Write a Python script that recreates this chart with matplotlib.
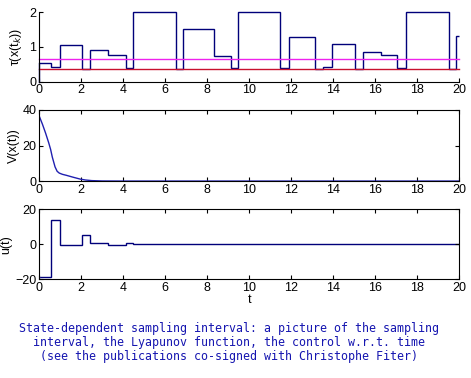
import matplotlib
matplotlib.use("Agg")
import matplotlib.pyplot as plt
import numpy as np

# Sampling instants t_k and sampling intervals tau_k (held until next instant)
t_samp = [0.0, 0.54, 0.98, 2.05, 2.41, 3.29, 4.11, 4.48, 6.49, 6.86, 8.33,
          9.11, 9.44, 11.46, 11.88, 13.14, 13.5, 13.93, 15.05, 15.41, 16.29,
          17.04, 17.45, 19.49, 19.84, 20.0]
tau_vals = [0.53, 0.43, 1.04, 0.37, 0.90, 0.76, 0.40, 2.0, 0.37, 1.51, 0.75,
            0.40, 2.0, 0.40, 1.28, 0.37, 0.42, 1.09, 0.37, 0.86, 0.76,
            0.40, 2.0, 0.37, 1.32]
tau_min = 0.37
tau_bound = 0.65

# Lyapunov function samples
v_t = [0.0, 0.0, 0.15, 0.3, 0.45, 0.54, 0.62, 0.75, 0.85, 0.95, 1.1, 1.3,
       1.6, 1.95, 2.2, 2.5, 3.0, 4.0, 20.0]
v_vals = [0.0, 36.5, 32.0, 27.0, 21.5, 17.8, 13.5, 8.0, 5.5, 4.5, 3.8, 3.2,
          2.2, 1.1, 0.6, 0.25, 0.05, 0.0, 0.0]

# Control values held over each sampling interval
u_vals = [-18.7, 13.5, -0.7, 5.0, 0.5, -0.2, 0.5, 0.0, 0.0, 0.0, 0.0,
          0.0, 0.0, 0.0, 0.0, 0.0, 0.0, 0.0, 0.0, 0.0, 0.0,
          0.0, 0.0, 0.0, 0.0]

caption = ("State-dependent sampling interval: a picture of the sampling\n"
           "interval, the Lyapunov function, the control w.r.t. time\n"
           "(see the publications co-signed with Christophe Fiter)")

plt.rcParams['font.family'] = ['Liberation Sans', 'DejaVu Sans']
navy = '#00007a'

fig = plt.figure(figsize=(4.71, 3.78), dpi=100)
L, W = 0.0834, 0.8917
ax1 = fig.add_axes([L, 0.784, W, 0.184])
ax2 = fig.add_axes([L, 0.521, W, 0.188])
ax3 = fig.add_axes([L, 0.261, W, 0.186])

def style(ax, box=True):
    ax.tick_params(direction='in', top=box, right=box, labelsize=9,
                   length=3, width=0.8, pad=2)
    for s in ax.spines.values():
        s.set_linewidth(0.8)
    if not box:
        ax.spines['top'].set_visible(False)
        ax.spines['right'].set_visible(False)
    ax.set_xlim(0, 20)
    ax.set_xticks(range(0, 21, 2))

# Top: sampling interval
tt = np.array(t_samp)
tv = np.array(tau_vals)
ax1.stairs(tv, tt, baseline=None, color=navy, lw=1.0)
ax1.plot([0, 0], [0, tau_vals[0]], color=navy, lw=1.0)
ax1.axhline(tau_bound, color='#ee22ee', lw=1.0)
ax1.axhline(tau_min, color='#c8102e', lw=1.0)
ax1.set_ylim(0, 2)
ax1.set_yticks([0, 1, 2])
ax1.set_ylabel(r'τ(x(t$_{k}$))', fontsize=9, labelpad=4)
style(ax1, box=False)
for ln in ax1.lines + list(ax1.patches):
    ln.set_clip_on(False)

# Middle: Lyapunov function
ax2.plot(v_t, v_vals, color='#2020b0', lw=1.0)
ax2.set_ylim(0, 40)
ax2.set_yticks([0, 20, 40])
ax2.set_ylabel('V(x(t))', fontsize=9, labelpad=2)
style(ax2)

# Bottom: control
ax3.stairs(np.array(u_vals), tt, baseline=None, color=navy, lw=1.0)
ax3.plot([t_samp[0]] * 2, [-20, u_vals[0]], color='#8080e0', lw=1.0)
ax3.set_ylim(-20, 20)
ax3.set_yticks([-20, 0, 20])
ax3.set_ylabel('u(t)', fontsize=9, labelpad=2)
ax3.set_xlabel('t', fontsize=9, labelpad=0)
style(ax3)

fig.text(0.487, 0.094, caption, ha='center', va='center',
         family='DejaVu Sans Mono', fontsize=8.4, color='#1515b0',
         linespacing=1.12)

fig.savefig('out.png', dpi=100)
